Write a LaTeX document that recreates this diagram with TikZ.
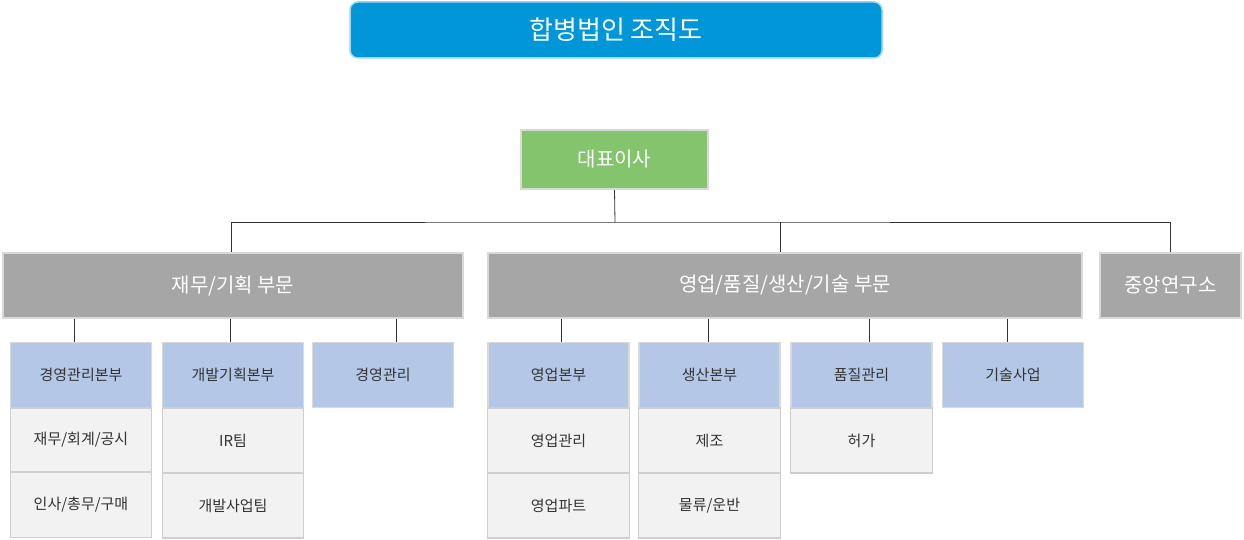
\documentclass[tikz,border=0pt]{standalone}
\usepackage{fontspec}
\setmainfont{Noto Sans CJK KR}
\definecolor{titleblue}{HTML}{0096D8}
\definecolor{titleedge}{HTML}{9DD6F0}
\definecolor{ceo}{HTML}{84C46C}
\definecolor{div}{HTML}{A6A6A6}
\definecolor{edge}{HTML}{D9D9D9}
\definecolor{dept}{HTML}{B4C7E7}
\definecolor{team}{HTML}{F2F2F2}
\definecolor{tedge}{HTML}{CFCFCF}
\definecolor{txt}{HTML}{333333}
\begin{document}
\begin{tikzpicture}[x=1pt,y=-1pt,
  box/.style={draw=edge,line width=2.5pt,text=white,font=\fontsize{20}{24}\selectfont},
  divbox/.style={box,fill=div},
  deptbox/.style={draw=edge,line width=1.5pt,fill=dept,text=txt,font=\fontsize{15}{18}\selectfont},
  teambox/.style={draw=tedge,line width=1.2pt,fill=team,text=txt,font=\fontsize{15}{18}\selectfont},
  conn/.style={draw=black!80,line width=0.8pt}]
\useasboundingbox (0,0) rectangle (1244,540);
\node[fill=titleblue,draw=titleedge,line width=1.5pt,rounded corners=8pt,text=white,font=\fontsize{26}{30}\selectfont,minimum width=532pt,minimum height=56pt] (title) at (616,30) {합병법인 조직도};
\node[box,fill=ceo,minimum width=187pt,minimum height=59pt] (ceo) at (614.5,159.5) {대표이사};
\node[divbox,minimum width=460pt,minimum height=65pt] (d1) at (233,285.5) {재무/기획 부문};
\node[divbox,minimum width=594pt,minimum height=65pt] (d2) at (785,285.5) {영업/품질/생산/기술 부문};
\node[divbox,minimum width=141pt,minimum height=65pt] (d3) at (1170.5,285.5) {중앙연구소};
\coordinate (h) at (615,222);
\draw[conn] (ceo.south) -- (h);
\draw[conn] (d1.north -| 231,0) |- (h) -| (d3.north);
\draw[conn] (d2.north -| 780,0) -- (780,222);
\foreach \n/\x/\t in {a/81/경영관리본부,b/233/개발기획본부,c/383/경영관리,d/558.5/영업본부,e/709.5/생산본부,f/861.5/품질관리,g/1013/기술사업}{
  \node[deptbox,minimum width=141pt,minimum height=65pt] (\n) at (\x,375) {\t};
}
\foreach \n/\x/\p in {a/74/d1,b/230/d1,c/396/d1,d/561/d2,e/708/d2,f/869/d2,g/1007/d2}{
  \draw[conn] (\x,319) -- (\x,342);
}
\node[teambox,minimum width=141pt,minimum height=64pt] (a1) at (81,440) {재무/회계/공시};
\node[teambox,minimum width=141pt,minimum height=65pt] (a2) at (81,505) {인사/총무/구매};
\node[teambox,minimum width=141pt,minimum height=65pt] (b1) at (233,440.5) {IR팀};
\node[teambox,minimum width=141pt,minimum height=65pt] (b2) at (233,505.5) {개발사업팀};
\node[teambox,minimum width=142pt,minimum height=65pt] (d1t) at (558.5,440.5) {영업관리};
\node[teambox,minimum width=142pt,minimum height=65pt] (d2t) at (558.5,505.5) {영업파트};
\node[teambox,minimum width=142pt,minimum height=65pt] (e1) at (709.5,440.5) {제조};
\node[teambox,minimum width=142pt,minimum height=65pt] (e2) at (709.5,505.5) {물류/운반};
\node[teambox,minimum width=142pt,minimum height=65pt] (f1) at (861.5,440.5) {허가};
\end{tikzpicture}
\end{document}
